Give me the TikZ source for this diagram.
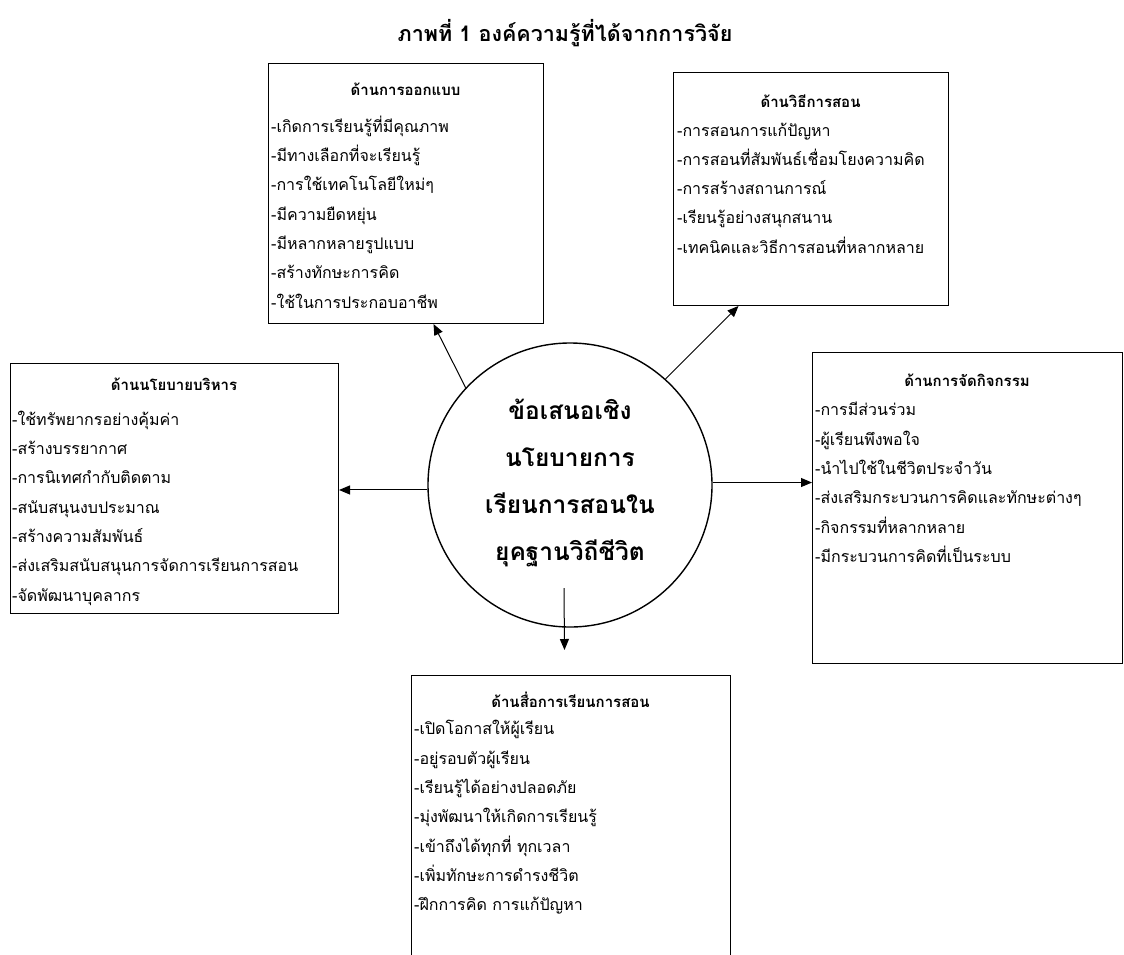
\documentclass[tikz,border=0pt]{standalone}
\usepackage{fontspec}
\newfontfamily\thai[Script=Thai]{Loma}
\usetikzlibrary{arrows.meta}
\tikzset{
  boxnode/.style={draw, line width=1pt, inner sep=0pt, anchor=north west},
  boxtitle/.style={font=\thai\bfseries\fontsize{15}{17}\selectfont, inner sep=0pt},
  items/.style={font=\thai\fontsize{16}{29.3}\selectfont, align=left, anchor=west, inner sep=0pt},
  conn/.style={line width=1pt, -{Triangle[length=11pt,width=9pt]}},
}
\begin{document}
\begin{tikzpicture}[x=1pt,y=-1pt]
\useasboundingbox (0,0) rectangle (1124,954);
\node[font=\thai\bfseries\fontsize{21.5}{24}\selectfont, inner sep=0pt] (title) at (565,33) {ภาพที่ 1 องค์ความรู้ที่ได้จากการวิจัย};
% top-left
\node[boxnode, minimum width=275pt, minimum height=260pt] (tl) at (268,63) {};
\node[boxtitle] (tlt) at (405.5,89) {ด้านการออกแบบ};
\node[items] (tli) at (271,212) {-เกิดการเรียนรู้ที่มีคุณภาพ\\-มีทางเลือกที่จะเรียนรู้\\-การใช้เทคโนโลยีใหม่ๆ\\-มีความยืดหยุ่น\\-มีหลากหลายรูปแบบ\\-สร้างทักษะการคิด\\-ใช้ในการประกอบอาชีพ};
% top-right
\node[boxnode, minimum width=275pt, minimum height=233pt] (tr) at (673,72) {};
\node[boxtitle] (trt) at (810.5,101) {ด้านวิธีการสอน};
\node[items] (tri) at (677,188) {-การสอนการแก้ปัญหา\\-การสอนที่สัมพันธ์เชื่อมโยงความคิด\\-การสร้างสถานการณ์\\-เรียนรู้อย่างสนุกสนาน\\-เทคนิคและวิธีการสอนที่หลากหลาย};
% left
\node[boxnode, minimum width=328pt, minimum height=250pt] (lb) at (10,363) {};
\node[boxtitle] (lbt) at (174,384) {ด้านนโยบายบริหาร};
\node[items] (lbi) at (12,508) {-ใช้ทรัพยากรอย่างคุ้มค่า\\-สร้างบรรยากาศ\\-การนิเทศกำกับติดตาม\\-สนับสนุนงบประมาณ\\-สร้างความสัมพันธ์\\-ส่งเสริมสนับสนุนการจัดการเรียนการสอน\\-จัดพัฒนาบุคลากร};
% right
\node[boxnode, minimum width=310pt, minimum height=311pt] (rb) at (812,352) {};
\node[boxtitle] (rbt) at (967,380) {ด้านการจัดกิจกรรม};
\node[items] (rbi) at (815,482.5) {-การมีส่วนร่วม\\-ผู้เรียนพึงพอใจ\\-นำไปใช้ในชีวิตประจำวัน\\-ส่งเสริมกระบวนการคิดและทักษะต่างๆ\\-กิจกรรมที่หลากหลาย\\-มีกระบวนการคิดที่เป็นระบบ};
% bottom
\node[boxnode, minimum width=319pt, minimum height=290pt] (bb) at (411,675) {};
\node[boxtitle] (bbt) at (570.5,700) {ด้านสื่อการเรียนการสอน};
\node[items] (bbi) at (414,817.5) {-เปิดโอกาสให้ผู้เรียน\\-อยู่รอบตัวผู้เรียน\\-เรียนรู้ได้อย่างปลอดภัย\\-มุ่งพัฒนาให้เกิดการเรียนรู้\\-เข้าถึงได้ทุกที่ ทุกเวลา\\-เพิ่มทักษะการดำรงชีวิต\\-ฝึกการคิด การแก้ปัญหา};
% circle
\node[draw, circle, line width=1.4pt, minimum size=284pt, inner sep=0pt] (c) at (570,485) {};
\node[font=\thai\bfseries\fontsize{24.5}{47}\selectfont, align=center, inner sep=0pt] (ct) at (570,482.5) {ข้อเสนอเชิง\\นโยบายการ\\เรียนการสอนใน\\ยุคฐานวิถีชีวิต};
% connectors
\draw[conn] (c.137.5) -- ([xshift=27.5pt]tl.south);
\draw[conn] (c.48.9) -- ([xshift=-72.5pt]tr.south);
\draw[conn] (c.182) -- (c.182 -| lb.east);
\draw[conn] (c.1) -- (c.1 -| rb.west);
\draw[conn] ([xshift=-6pt,yshift=-103pt]c.center) -- ([xshift=-6.5pt,yshift=25pt]bb.north);
\end{tikzpicture}
\end{document}
